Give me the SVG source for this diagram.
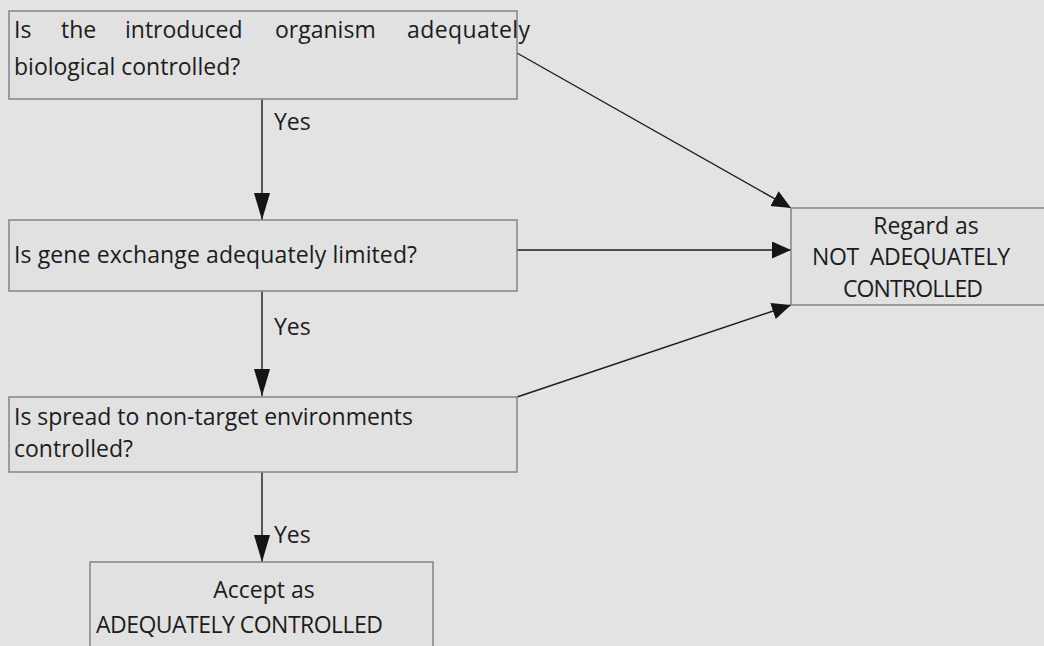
<svg xmlns="http://www.w3.org/2000/svg" width="1044" height="646" viewBox="0 0 1044 646">
<style>
.box{fill:#e1e1e1;stroke:#8a8a8a;stroke-width:1.6}
.t{font-family:"Open Sans","Liberation Sans",sans-serif;font-size:23px;fill:#1c1c1c}
.c{stroke:#1c1c1c;stroke-width:1.4;fill:none}
</style>
<defs>
<marker id="av" markerUnits="userSpaceOnUse" markerWidth="30" markerHeight="20" refX="27" refY="8" orient="auto">
<path d="M0,0 L27,8 L0,16 Z" fill="#151515"/>
</marker>
<marker id="ah" markerUnits="userSpaceOnUse" markerWidth="22" markerHeight="20" refX="19" refY="8.5" orient="auto">
<path d="M0,0 L19,8.5 L0,17 Z" fill="#151515"/>
</marker>
</defs>
<rect width="1044" height="646" fill="#e3e3e3"/>
<g id="connectors">
<line class="c" x1="262" y1="99" x2="262" y2="220" marker-end="url(#av)"/>
<line class="c" x1="262" y1="291" x2="262" y2="396" marker-end="url(#av)"/>
<line class="c" x1="262" y1="472" x2="262" y2="562" marker-end="url(#av)"/>
<line class="c" x1="517" y1="53" x2="791" y2="208" marker-end="url(#ah)"/>
<line class="c" x1="517" y1="250" x2="791" y2="250" marker-end="url(#ah)"/>
<line class="c" x1="517" y1="397" x2="791" y2="305" marker-end="url(#ah)"/>
<text class="t" x="274" y="130">Yes</text>
<text class="t" x="274" y="335">Yes</text>
<text class="t" x="274" y="543">Yes</text>
</g>
<g id="q1">
<rect class="box" x="9" y="11" width="508" height="88"/>
<text class="t" x="14" y="38">Is</text>
<text class="t" x="61" y="38">the</text>
<text class="t" x="125" y="38">introduced</text>
<text class="t" x="275" y="38">organism</text>
<text class="t" x="407" y="38" textLength="123">adequately</text>
<text class="t" x="14" y="75">biological controlled?</text>
</g>
<g id="q2">
<rect class="box" x="9" y="220" width="508" height="71"/>
<text class="t" x="14" y="263" textLength="403">Is gene exchange adequately limited?</text>
</g>
<g id="q3">
<rect class="box" x="9" y="397" width="508" height="75"/>
<text class="t" x="14" y="425" textLength="399">Is spread to non-target environments</text>
<text class="t" x="14" y="457">controlled?</text>
</g>
<g id="notControlled">
<rect class="box" x="791" y="208" width="270" height="97"/>
<text class="t" x="926" y="234" text-anchor="middle">Regard as</text>
<text class="t" x="812" y="265" xml:space="preserve" textLength="198">NOT  ADEQUATELY</text>
<text class="t" x="843" y="297" textLength="140">CONTROLLED</text>
</g>
<g id="accept">
<rect class="box" x="90" y="562" width="343" height="100"/>
<text class="t" x="264" y="598" text-anchor="middle">Accept as</text>
<text class="t" x="96" y="633" textLength="287">ADEQUATELY CONTROLLED</text>
</g>
</svg>
